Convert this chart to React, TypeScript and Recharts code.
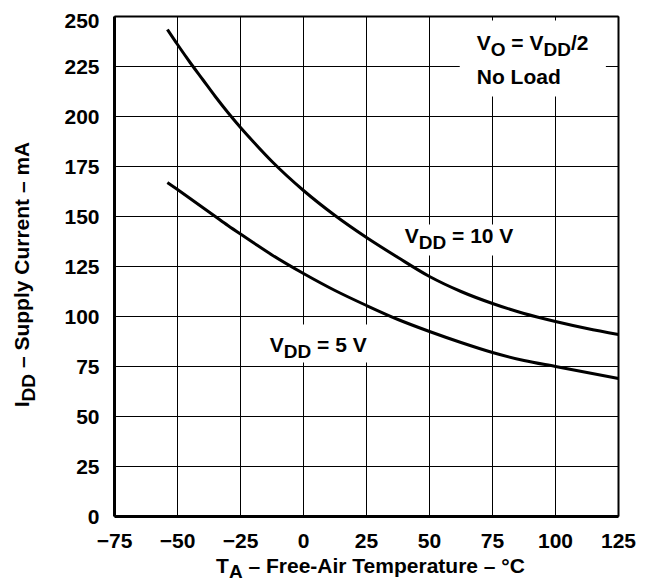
import { LineChart, Line, XAxis, YAxis, CartesianGrid, ReferenceArea, ReferenceLine, Label } from 'recharts';

// free-air temperature (°C) and supply current (mA)
const temps = [-54, -50, -45, -40, -35, -30, -25, -20, -12.5, 0, 12.5, 25, 37.5, 50, 62.5, 75, 87.5, 100, 112.5, 125];
const idd10 = [243.5, 236, 227, 218.5, 210, 202, 194.5, 187.5, 177.5, 163, 150.5, 139.5, 129.5, 120, 112.5, 106.5, 101.5, 97.5, 94, 91];
const idd5 = [167, 163.5, 159, 154.5, 150, 145.5, 141.2, 137, 130.8, 121.5, 113, 105.5, 98.5, 92.5, 87, 82, 78, 75, 72, 69];

const xTicks = [-75, -50, -25, 0, 25, 50, 75, 100, 125];
const yTicks = [0, 25, 50, 75, 100, 125, 150, 175, 200, 225, 250];

const data = temps.map((t, i) => ({ t, v10: idd10[i], v5: idd5[i] }));

const FONT = '"Liberation Sans", Arial, Helvetica, sans-serif';
const FS = 21;
const SUB = 19;
const tickStyle = { fill: '#000', fontSize: FS, fontWeight: 700, fontFamily: FONT };

const fmt = (v: number) => String(v).replace('-', '\u2212');

const XTitle = ({ viewBox }: any) => {
    const cx = viewBox.x + viewBox.width / 2 + 4;
    return (
        <text x={cx} y={565} textAnchor="middle" fontSize={FS} fontWeight={700} fontFamily={FONT} fill="#000">
            T<tspan dy={5} fontSize={SUB}>A</tspan>
            <tspan dy={-5}> – Free-Air Temperature – °C</tspan>
        </text>
    );
};

const YTitle = ({ viewBox }: any) => {
    const cy = viewBox.y + viewBox.height / 2 + 8;
    return (
        <text x={21} y={cy} transform={`rotate(-90, 21, ${cy})`} textAnchor="middle" fontSize={FS} fontWeight={700} fontFamily={FONT} fill="#000">
            I<tspan dy={6} fontSize={SUB}>DD</tspan>
            <tspan dy={-6}> – Supply Current – mA</tspan>
        </text>
    );
};

const VoNote = ({ viewBox }: any) => (
    <text fontSize={FS} fontWeight={700} fontFamily={FONT} fill="#000">
        <tspan x={viewBox.x + 17} y={viewBox.y + 29}>V</tspan>
        <tspan dy={6} fontSize={SUB}>O</tspan>
        <tspan dy={-6}> = V</tspan>
        <tspan dy={6} fontSize={SUB}>DD</tspan>
        <tspan dy={-6}>/2</tspan>
        <tspan x={viewBox.x + 17} y={viewBox.y + 63}>No Load</tspan>
    </text>
);

const VddNote = (value: string, dx: number, dy: number) => ({ viewBox }: any) => (
    <text x={viewBox.x + dx} y={viewBox.y + dy} fontSize={FS} fontWeight={700} fontFamily={FONT} fill="#000">
        V<tspan dy={6} fontSize={SUB}>DD</tspan>
        <tspan dy={-6}> = {value}</tspan>
    </text>
);

export default function App() {
    return (
        <LineChart width={640} height={574} data={data} margin={{ top: 8.5, right: 29.5, left: 0.5, bottom: 5.5 }}>
            <CartesianGrid stroke="#000" strokeWidth={1} />
            <XAxis
                dataKey="t"
                type="number"
                domain={[-75, 125]}
                ticks={xTicks}
                tickFormatter={fmt}
                tick={tickStyle}
                tickLine={false}
                tickMargin={11}
                height={60}
                axisLine={{ stroke: '#000', strokeWidth: 3 }}
                label={<Label content={XTitle} />}
            />
            <YAxis
                type="number"
                domain={[0, 250]}
                ticks={yTicks}
                tick={tickStyle}
                tickLine={false}
                tickMargin={9}
                width={106}
                axisLine={{ stroke: '#000', strokeWidth: 3 }}
                label={<Label content={YTitle} />}
            />
            <ReferenceLine y={250} stroke="#000" strokeWidth={2} />
            <ReferenceLine x={125} stroke="#000" strokeWidth={2} />
            <ReferenceArea x1={62} x2={120} y1={210} y2={248} fill="#fff" fillOpacity={1} stroke="none" label={<Label content={VoNote} />} />
            <ReferenceArea x1={37} x2={89} y1={130.5} y2={146} fill="#fff" fillOpacity={1} stroke="none" label={<Label content={VddNote('10 V', 8, 18)} />} />
            <ReferenceArea x1={-22.5} x2={29.5} y1={77} y2={96} fill="#fff" fillOpacity={1} stroke="none" label={<Label content={VddNote('5 V', 23, 27)} />} />
            <Line type="monotone" dataKey="v10" stroke="#000" strokeWidth={3} dot={false} isAnimationActive={false} />
            <Line type="monotone" dataKey="v5" stroke="#000" strokeWidth={3} dot={false} isAnimationActive={false} />
        </LineChart>
    );
}
